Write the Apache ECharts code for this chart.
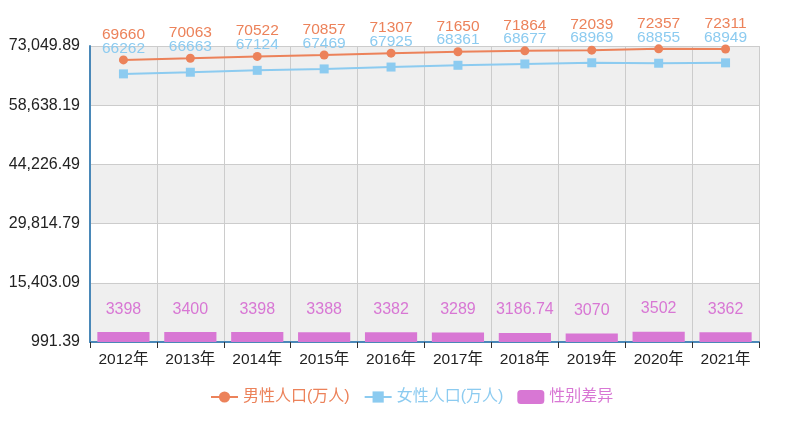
<!doctype html>
<html>
<head>
<meta charset="UTF-8">
<title>人口性别</title>
<script src="https://cdn.jsdelivr.net/npm/echarts@6/dist/echarts.min.js"></script>
<style>
  html, body { margin: 0; padding: 0; background: #fff; }
  #chart { width: 790px; height: 424px; }
</style>
</head>
<body>
<div id="chart"></div>
<script>
var years = ['2012年', '2013年', '2014年', '2015年', '2016年', '2017年', '2018年', '2019年', '2020年', '2021年'];
var male = [69660, 70063, 70522, 70857, 71307, 71650, 71864, 72039, 72357, 72311];
var female = [66262, 66663, 67124, 67469, 67925, 68361, 68677, 68969, 68855, 68949];
var diff = [3398, 3400, 3398, 3388, 3382, 3289, 3186.74, 3070, 3502, 3362];
var yTicks = [991.39, 15403.09, 29814.79, 44226.49, 58638.19, 73049.89];

var colors = ['#ec825a', '#8ccbf0', '#d877d4'];
var font = '"Liberation Sans", "Noto Sans CJK SC", sans-serif';

function fmt(v) {
  return v.toLocaleString('en-US', { minimumFractionDigits: 2, maximumFractionDigits: 2 });
}

var chart = echarts.init(document.getElementById('chart'));
chart.setOption({
  animation: false,
  textStyle: { fontFamily: font },
  grid: { left: 90, right: 31, top: 46, bottom: 82, containLabel: false },
  legend: {
    bottom: 14,
    left: 205,
    itemWidth: 27,
    itemHeight: 14,
    itemGap: 14,
    textStyle: { fontSize: 16, fontFamily: font },
    data: [
      { name: '男性人口(万人)', textStyle: { color: colors[0] } },
      { name: '女性人口(万人)', textStyle: { color: colors[1] } },
      { name: '性别差异', textStyle: { color: colors[2] } }
    ]
  },
  xAxis: {
    type: 'category',
    data: years,
    boundaryGap: true,
    axisLine: { lineStyle: { color: '#4a88b8', width: 2 } },
    axisTick: { show: true, length: 6, lineStyle: { color: '#333' } },
    axisLabel: { color: '#222', fontSize: 15.5, margin: 10 },
    splitLine: { show: true, lineStyle: { color: '#ccc' } }
  },
  yAxis: {
    type: 'value',
    min: yTicks[0],
    max: yTicks[yTicks.length - 1],
    axisLine: { show: true, lineStyle: { color: '#4a88b8', width: 2 } },
    axisTick: { show: false, customValues: yTicks },
    axisLabel: {
      color: '#222', fontSize: 16, margin: 10,
      customValues: yTicks,
      formatter: function (v) { return fmt(v); }
    },
    splitLine: { show: true, lineStyle: { color: '#ccc' } },
    splitArea: { show: true, areaStyle: { color: ['#efefef', '#ffffff'] } }
  },
  series: [
    {
      name: '男性人口(万人)',
      type: 'line',
      data: male,
      symbol: 'circle',
      symbolSize: 9,
      lineStyle: { color: colors[0], width: 2 },
      itemStyle: { color: colors[0] },
      label: { show: true, position: 'top', distance: 13, color: colors[0], fontSize: 15.5 },
      z: 4
    },
    {
      name: '女性人口(万人)',
      type: 'line',
      data: female,
      symbol: 'rect',
      symbolSize: 9,
      lineStyle: { color: colors[1], width: 2 },
      itemStyle: { color: colors[1] },
      label: { show: true, position: 'top', distance: 13, color: colors[1], fontSize: 15.5 },
      z: 5
    },
    {
      name: '性别差异',
      type: 'bar',
      data: diff,
      barWidth: '78%',
      itemStyle: { color: colors[2] },
      label: { show: true, position: 'top', distance: 15, color: colors[2], fontSize: 16 }
    }
  ]
});
</script>
</body>
</html>
